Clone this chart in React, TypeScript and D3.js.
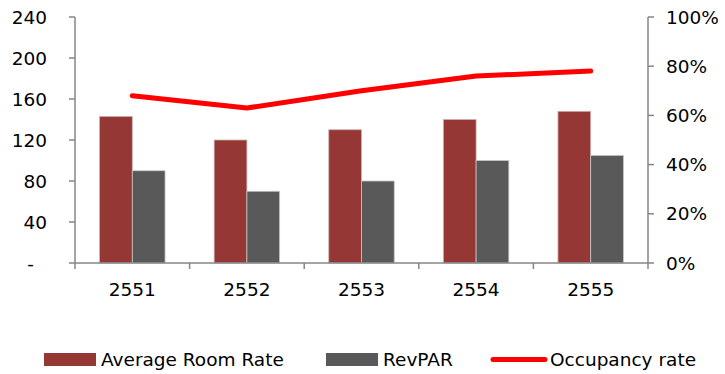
import React from "react";
import * as d3 from "d3";

const years = ["2551", "2552", "2553", "2554", "2555"];
const averageRoomRate = [143, 120, 130, 140, 148];
const revPAR = [90, 70, 80, 100, 105];
const occupancyRate = [0.68, 0.63, 0.7, 0.76, 0.78];
const leftTicks = [0, 40, 80, 120, 160, 200, 240];
const rightTicks = [0, 0.2, 0.4, 0.6, 0.8, 1.0];

const W = 725;
const H = 374;
const left = 75;
const right = 648;
const top = 17;
const bottom = 263;

const axisColor = "#868686";
const font = "'DejaVu Sans', Verdana, sans-serif";
const fs = 18.5;

export default function App() {
  const x0 = d3.scaleBand<string>().domain(years).range([left, right]).padding(0);
  const x1 = d3
    .scaleBand<string>()
    .domain(["arr", "rev"])
    .range([0, x0.bandwidth()])
    .paddingInner(0)
    .paddingOuter(0.75);
  const yL = d3.scaleLinear().domain([0, 240]).range([bottom, top]);
  const yR = d3.scaleLinear().domain([0, 1]).range([bottom, top]);

  const line = d3
    .line<number>()
    .x((_, i) => (x0(years[i]) as number) + x0.bandwidth() / 2)
    .y((d) => yR(d));

  const catTicks = [...years.map((y) => x0(y) as number), right];

  return (
    <svg
      width={W}
      height={H}
      style={{ position: "absolute", left: 0, top: 0, background: "#fff" }}
      fontFamily={font}
    >
      {/* bars */}
      {years.map((yr, i) => (
        <g key={yr} transform={`translate(${x0(yr)},0)`}>
          <rect
            x={x1("arr")}
            y={yL(averageRoomRate[i])}
            width={x1.bandwidth()}
            height={bottom - yL(averageRoomRate[i])}
            fill="#953735"
            stroke="#c9b3b3"
            strokeWidth={0.8}
          />
          <rect
            x={x1("rev")}
            y={yL(revPAR[i])}
            width={x1.bandwidth()}
            height={bottom - yL(revPAR[i])}
            fill="#595959"
            stroke="#c8c8c8"
            strokeWidth={0.8}
          />
        </g>
      ))}

      {/* left axis */}
      <line x1={left} x2={left} y1={top} y2={bottom} stroke={axisColor} strokeWidth={1.5} />
      {leftTicks.map((t) => (
        <g key={t}>
          <line x1={left - 6} x2={left} y1={yL(t)} y2={yL(t)} stroke={axisColor} strokeWidth={1.5} />
          <text
            x={t === 0 ? 34 : 47}
            y={yL(t)}
            dy="0.36em"
            textAnchor="end"
            fontSize={fs}
            fill="#000"
          >
            {t === 0 ? "-" : t}
          </text>
        </g>
      ))}

      {/* right axis */}
      <line x1={right} x2={right} y1={top} y2={bottom} stroke={axisColor} strokeWidth={1.5} />
      {rightTicks.map((t) => (
        <g key={t}>
          <line x1={right} x2={right + 6} y1={yR(t)} y2={yR(t)} stroke={axisColor} strokeWidth={1.5} />
          <text x={666} y={yR(t)} dy="0.36em" textAnchor="start" fontSize={fs} fill="#000">
            {d3.format(".0%")(t)}
          </text>
        </g>
      ))}

      {/* category axis */}
      <line x1={left} x2={right} y1={bottom} y2={bottom} stroke={axisColor} strokeWidth={1.5} />
      {catTicks.map((cx, i) => (
        <line key={i} x1={cx} x2={cx} y1={bottom} y2={bottom + 6} stroke={axisColor} strokeWidth={1.5} />
      ))}
      {years.map((yr) => (
        <text
          key={yr}
          x={(x0(yr) as number) + x0.bandwidth() / 2}
          y={296}
          textAnchor="middle"
          fontSize={fs}
          fill="#000"
        >
          {yr}
        </text>
      ))}

      {/* occupancy line */}
      <path
        d={line(occupancyRate) || ""}
        fill="none"
        stroke="#ff0000"
        strokeWidth={5}
        strokeLinecap="round"
        strokeLinejoin="round"
      />

      {/* legend */}
      <g fontSize={fs} fill="#000">
        <rect x={44} y={353} width={52} height={13} fill="#953735" />
        <text x={101} y={366}>Average Room Rate</text>
        <rect x={326} y={353} width={52} height={13} fill="#595959" />
        <text x={383} y={366}>RevPAR</text>
        <line x1={493} x2={545} y1={359.5} y2={359.5} stroke="#ff0000" strokeWidth={5} strokeLinecap="round" />
        <text x={550} y={366}>Occupancy rate</text>
      </g>
    </svg>
  );
}
